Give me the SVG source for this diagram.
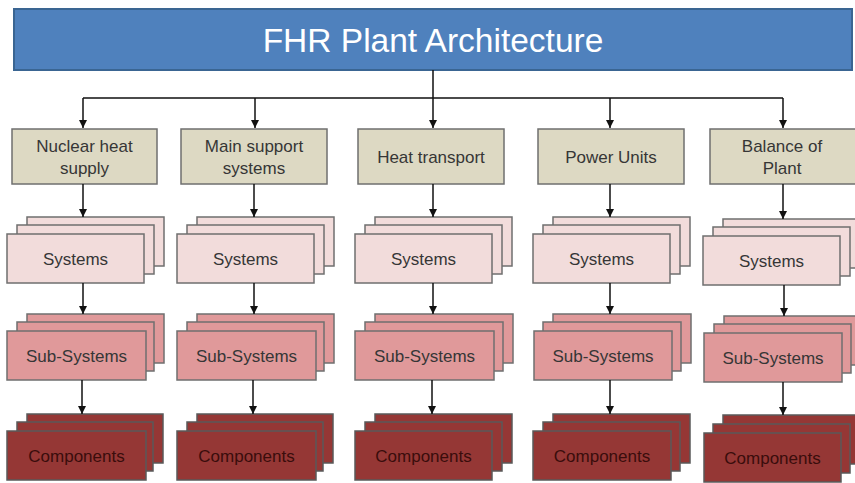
<svg xmlns="http://www.w3.org/2000/svg" width="855" height="483" viewBox="0 0 855 483">
  <defs>
    <style>
      .title { fill: #4f81bd; stroke: #3a6592; stroke-width: 2; }
      .title-text { font-family: "Liberation Sans", Arial, sans-serif; font-size: 33.5px; fill: #ffffff; text-anchor: middle; }
      .area { fill: #ddd9c3; stroke: #6f6f6f; stroke-width: 1.5; }
      .sys { fill: #f2dcdb; stroke: #6f6f6f; stroke-width: 1.5; }
      .sub { fill: #e0999a; stroke: #6f6f6f; stroke-width: 1.5; }
      .comp { fill: #953735; stroke: #5a5a5a; stroke-width: 1.5; }
      .lbl { font-family: "Liberation Sans", Arial, sans-serif; font-size: 17px; fill: #363636; text-anchor: middle; }
      .lbl-dark { font-family: "Liberation Sans", Arial, sans-serif; font-size: 17px; fill: #3a0d0c; text-anchor: middle; }
      .conn { fill: none; stroke: #111111; stroke-width: 1.5; }
    </style>
    <marker id="arrow" viewBox="0 0 8 8" refX="8" refY="4" markerWidth="8" markerHeight="8" markerUnits="userSpaceOnUse" orient="auto">
      <path d="M0,0 L8,4 L0,8 z" fill="#111111"/>
    </marker>
  </defs>

  <!-- top-level box -->
  <g id="fhr-plant-architecture">
    <rect class="title" x="14" y="9" width="838" height="61"/>
    <text class="title-text" x="433" y="52">FHR Plant Architecture</text>
  </g>

  <!-- plant areas -->
  <g id="nuclear-heat-supply">
    <rect class="area" x="12" y="129" width="145" height="55"/>
    <text class="lbl" x="84.5" y="152">Nuclear heat</text>
    <text class="lbl" x="84.5" y="174">supply</text>
  </g>
  <g id="main-support-systems">
    <rect class="area" x="181" y="129" width="146" height="55"/>
    <text class="lbl" x="254" y="152">Main support</text>
    <text class="lbl" x="254" y="174">systems</text>
  </g>
  <g id="heat-transport">
    <rect class="area" x="358" y="129" width="146" height="55"/>
    <text class="lbl" x="431" y="163">Heat transport</text>
  </g>
  <g id="power-units">
    <rect class="area" x="538" y="129" width="146" height="55"/>
    <text class="lbl" x="611" y="163">Power Units</text>
  </g>
  <g id="balance-of-plant">
    <rect class="area" x="710" y="129" width="146" height="55"/>
    <text class="lbl" x="782" y="152">Balance of</text>
    <text class="lbl" x="782" y="174">Plant</text>
  </g>

  <!-- systems stacks -->
  <g id="systems-1">
    <rect class="sys" x="27" y="217" width="137" height="49"/>
    <rect class="sys" x="17" y="225" width="137" height="49"/>
    <rect class="sys" x="7" y="234" width="137" height="49"/>
    <text class="lbl" x="75.5" y="265">Systems</text>
  </g>
  <g id="systems-2">
    <rect class="sys" x="197" y="217" width="137" height="49"/>
    <rect class="sys" x="187" y="225" width="137" height="49"/>
    <rect class="sys" x="177" y="234" width="137" height="49"/>
    <text class="lbl" x="245.5" y="265">Systems</text>
  </g>
  <g id="systems-3">
    <rect class="sys" x="375" y="217" width="137" height="49"/>
    <rect class="sys" x="365" y="225" width="137" height="49"/>
    <rect class="sys" x="355" y="234" width="137" height="49"/>
    <text class="lbl" x="423.5" y="265">Systems</text>
  </g>
  <g id="systems-4">
    <rect class="sys" x="553" y="217" width="137" height="49"/>
    <rect class="sys" x="543" y="225" width="137" height="49"/>
    <rect class="sys" x="533" y="234" width="137" height="49"/>
    <text class="lbl" x="601.5" y="265">Systems</text>
  </g>
  <g id="systems-5">
    <rect class="sys" x="723" y="219" width="137" height="49"/>
    <rect class="sys" x="713" y="227" width="137" height="49"/>
    <rect class="sys" x="703" y="236" width="137" height="49"/>
    <text class="lbl" x="771.5" y="267">Systems</text>
  </g>

  <!-- sub-systems stacks -->
  <g id="sub-systems-1">
    <rect class="sub" x="27" y="314" width="137" height="49"/>
    <rect class="sub" x="17" y="322" width="137" height="49"/>
    <rect class="sub" x="7" y="331" width="139" height="49"/>
    <text class="lbl" x="76.5" y="362">Sub-Systems</text>
  </g>
  <g id="sub-systems-2">
    <rect class="sub" x="197" y="314" width="137" height="49"/>
    <rect class="sub" x="187" y="322" width="137" height="49"/>
    <rect class="sub" x="177" y="331" width="139" height="49"/>
    <text class="lbl" x="246.5" y="362">Sub-Systems</text>
  </g>
  <g id="sub-systems-3">
    <rect class="sub" x="375" y="314" width="138" height="49"/>
    <rect class="sub" x="365" y="322" width="138" height="49"/>
    <rect class="sub" x="355" y="331" width="139" height="49"/>
    <text class="lbl" x="424.5" y="362">Sub-Systems</text>
  </g>
  <g id="sub-systems-4">
    <rect class="sub" x="553" y="314" width="138" height="49"/>
    <rect class="sub" x="543" y="322" width="138" height="49"/>
    <rect class="sub" x="534" y="331" width="138" height="49"/>
    <text class="lbl" x="603" y="362">Sub-Systems</text>
  </g>
  <g id="sub-systems-5">
    <rect class="sub" x="724" y="316" width="137" height="49"/>
    <rect class="sub" x="714" y="324" width="137" height="49"/>
    <rect class="sub" x="704" y="333" width="138" height="49"/>
    <text class="lbl" x="773" y="364">Sub-Systems</text>
  </g>

  <!-- components stacks -->
  <g id="components-1">
    <rect class="comp" x="27" y="414" width="136" height="49"/>
    <rect class="comp" x="17" y="422" width="136" height="49"/>
    <rect class="comp" x="7" y="431" width="139" height="49"/>
    <text class="lbl-dark" x="76.5" y="462">Components</text>
  </g>
  <g id="components-2">
    <rect class="comp" x="197" y="414" width="136" height="49"/>
    <rect class="comp" x="187" y="422" width="136" height="49"/>
    <rect class="comp" x="177" y="431" width="139" height="49"/>
    <text class="lbl-dark" x="246.5" y="462">Components</text>
  </g>
  <g id="components-3">
    <rect class="comp" x="375" y="414" width="137" height="49"/>
    <rect class="comp" x="365" y="422" width="137" height="49"/>
    <rect class="comp" x="355" y="431" width="137" height="49"/>
    <text class="lbl-dark" x="423.5" y="462">Components</text>
  </g>
  <g id="components-4">
    <rect class="comp" x="553" y="414" width="137" height="49"/>
    <rect class="comp" x="543" y="422" width="137" height="49"/>
    <rect class="comp" x="533" y="431" width="138" height="49"/>
    <text class="lbl-dark" x="602" y="462">Components</text>
  </g>
  <g id="components-5">
    <rect class="comp" x="723" y="415" width="137" height="49"/>
    <rect class="comp" x="713" y="424" width="137" height="49"/>
    <rect class="comp" x="704" y="433" width="137" height="49"/>
    <text class="lbl-dark" x="772.5" y="464">Components</text>
  </g>

  <!-- connectors -->
  <g id="connectors">
    <path class="conn" d="M433,70 V98 M83,98 H783"/>
    <path class="conn" d="M83,98 V128" marker-end="url(#arrow)"/>
    <path class="conn" d="M255,98 V128" marker-end="url(#arrow)"/>
    <path class="conn" d="M433,98 V128" marker-end="url(#arrow)"/>
    <path class="conn" d="M610,98 V128" marker-end="url(#arrow)"/>
    <path class="conn" d="M783,98 V128" marker-end="url(#arrow)"/>

    <path class="conn" d="M83,184 V217" marker-end="url(#arrow)"/>
    <path class="conn" d="M254,184 V217" marker-end="url(#arrow)"/>
    <path class="conn" d="M433,184 V217" marker-end="url(#arrow)"/>
    <path class="conn" d="M610,184 V217" marker-end="url(#arrow)"/>
    <path class="conn" d="M783,184 V219" marker-end="url(#arrow)"/>

    <path class="conn" d="M83,283 V314" marker-end="url(#arrow)"/>
    <path class="conn" d="M254,283 V314" marker-end="url(#arrow)"/>
    <path class="conn" d="M433,283 V314" marker-end="url(#arrow)"/>
    <path class="conn" d="M610,283 V314" marker-end="url(#arrow)"/>
    <path class="conn" d="M784,285 V316" marker-end="url(#arrow)"/>

    <path class="conn" d="M82,380 V414" marker-end="url(#arrow)"/>
    <path class="conn" d="M253,380 V414" marker-end="url(#arrow)"/>
    <path class="conn" d="M432,380 V414" marker-end="url(#arrow)"/>
    <path class="conn" d="M610,380 V414" marker-end="url(#arrow)"/>
    <path class="conn" d="M783,382 V415" marker-end="url(#arrow)"/>
  </g>
</svg>
